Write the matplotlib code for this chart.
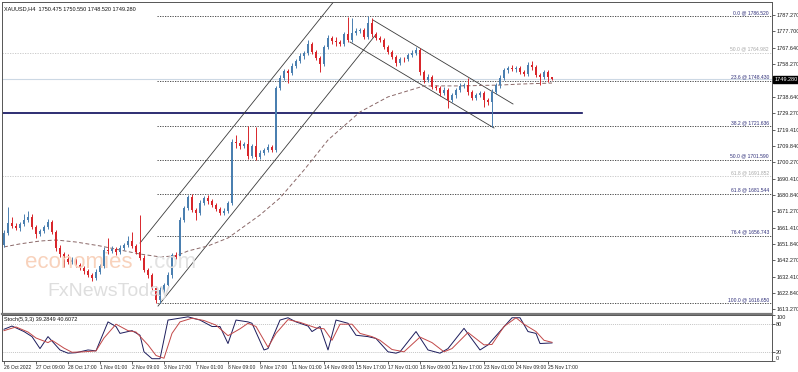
import numpy as np
import matplotlib.pyplot as plt
import matplotlib.transforms as mtransforms

# XAUUSD H4 candles, 26 Oct - 25 Nov 2022
first_open = 1651.2
closes = [1658.3, 1664.2, 1662.4, 1661.2, 1663.6, 1666.0, 1667.7, 1661.8, 1657.7, 1659.4,
          1661.8, 1664.8, 1658.9, 1649.4, 1645.8, 1642.9, 1641.1, 1642.3, 1639.3, 1637.5,
          1635.8, 1633.4, 1631.6, 1635.2, 1638.7, 1648.2, 1647.6, 1648.8, 1647.0, 1649.4,
          1651.2, 1653.5, 1650.6, 1647.0, 1643.5, 1636.4, 1633.4, 1625.7, 1618.6, 1624.5,
          1627.5, 1633.4, 1645.2, 1644.1, 1666.0, 1673.1, 1679.6, 1671.9, 1670.1, 1676.0,
          1679.0, 1677.2, 1674.8, 1672.5, 1670.1, 1671.3, 1676.0, 1712.1, 1711.5, 1709.7,
          1710.9, 1703.8, 1709.7, 1703.2, 1705.6, 1707.4, 1709.2, 1707.4, 1744.1, 1750.0,
          1754.1, 1753.0, 1757.1, 1760.1, 1763.0, 1764.8, 1770.1, 1765.4, 1761.8, 1758.3,
          1768.3, 1773.7, 1771.9, 1771.3, 1770.1, 1776.0, 1772.5, 1776.6, 1777.8, 1778.4,
          1774.3, 1782.5, 1776.0, 1773.7, 1772.5, 1768.3, 1765.4, 1762.4, 1758.9, 1761.2,
          1761.0, 1763.6, 1764.8, 1766.6, 1753.5, 1748.8, 1750.6, 1744.7, 1744.1, 1741.1,
          1742.9, 1737.0, 1739.9, 1742.9, 1745.3, 1745.8, 1741.7, 1738.2, 1739.9, 1741.1,
          1737.0, 1735.8, 1741.7, 1745.8, 1750.0, 1754.7, 1755.9, 1755.3, 1755.9, 1753.5,
          1752.4, 1757.7, 1756.5, 1751.8, 1750.6, 1753.5, 1750.475, 1749.28]
wick_up = [1.5, 9.5, 3.8, 1.5, 1.0, 3.5, 3.5, 2.0, 1.0, 1.2,
           1.2, 1.8, 1.0, 1.2, 1.5, 1.2, 3.0, 1.5, 1.0, 1.2,
           1.0, 1.2, 1.0, 1.5, 1.2, 1.5, 7.0, 1.5, 1.2, 1.5,
           1.2, 3.0, 5.3, 1.2, 21.9, 1.5, 1.2, 1.0, 1.2, 1.5,
           1.2, 1.5, 1.2, 2.0, 1.5, 1.2, 1.2, 1.5, 1.2, 1.5,
           1.2, 1.5, 1.2, 1.0, 1.2, 1.5, 1.2, 1.5, 4.0, 1.5,
           1.5, 10.6, 1.5, 11.2, 1.5, 1.2, 1.5, 1.2, 1.0, 1.5,
           1.2, 1.0, 1.5, 1.2, 1.5, 1.2, 2.4, 1.2, 1.0, 1.2,
           1.5, 1.8, 1.2, 2.4, 1.2, 1.5, 10.0, 9.0, 1.5, 1.2,
           1.2, 4.0, 3.0, 1.2, 1.0, 1.2, 1.0, 1.2, 1.0, 1.5,
           1.5, 1.2, 1.5, 2.0, 1.2, 1.0, 1.5, 1.2, 1.0, 1.2,
           1.5, 1.2, 1.5, 1.2, 1.5, 1.2, 4.1, 1.2, 1.5, 1.2,
           1.2, 1.0, 1.5, 1.2, 1.5, 1.5, 1.2, 1.5, 1.2, 1.2,
           1.0, 1.5, 2.4, 1.2, 1.0, 1.5, 1.2, 0.075]
wick_dn = [1.0, 1.5, 1.2, 1.0, 1.5, 1.2, 1.0, 1.2, 2.5, 1.2,
           1.0, 1.2, 1.5, 2.0, 1.5, 5.0, 1.2, 1.5, 1.2, 1.0,
           2.0, 1.2, 1.8, 1.2, 1.5, 1.2, 1.5, 1.2, 1.5, 1.2,
           1.0, 1.2, 1.5, 1.2, 1.5, 1.2, 1.5, 1.2, 2.0, 1.8,
           1.5, 1.2, 1.5, 1.2, 1.5, 1.2, 1.0, 1.5, 4.0, 1.2,
           1.0, 1.5, 1.2, 1.5, 1.2, 1.0, 1.5, 1.2, 3.0, 1.5,
           1.2, 1.5, 1.2, 1.5, 1.2, 1.0, 1.2, 1.5, 1.2, 1.5,
           1.2, 6.0, 1.2, 1.0, 1.2, 1.5, 1.2, 1.5, 1.2, 5.0,
           1.2, 1.0, 1.5, 2.4, 1.2, 1.0, 1.5, 1.2, 1.0, 1.2,
           1.5, 1.2, 1.5, 1.2, 1.5, 1.2, 1.5, 1.2, 2.0, 1.2,
           1.5, 1.2, 1.0, 1.2, 1.5, 1.5, 1.2, 1.5, 1.2, 1.5,
           1.2, 4.7, 1.2, 1.5, 1.2, 1.0, 1.5, 1.2, 1.5, 1.2,
           4.0, 1.5, 14.8, 1.2, 1.5, 1.2, 1.5, 1.2, 1.5, 1.2,
           1.5, 1.2, 1.5, 1.2, 5.0, 1.2, 3.0, 0.76]

# moving average (dashed), vertices
ma_idx = [0, 4, 9, 13, 18, 24, 29, 34, 39, 43, 46, 51, 56, 64, 69, 75, 81, 89, 96, 105, 114, 124, 129, 137]
ma_val = [1650.0, 1651.8, 1653.5, 1654.1, 1652.9, 1650.6, 1648.2, 1645.8, 1644.1, 1644.7, 1647.6,
          1650.6, 1655.3, 1668.9, 1679.0, 1695.5, 1713.3, 1729.9, 1738.8, 1745.3, 1745.3, 1745.8,
          1746.4, 1747.0]

# stochastic (5,3,3)
k_idx = [0, 2, 5, 7, 9, 11, 14, 16, 18, 21, 23, 26, 28, 29, 31, 32, 34, 35, 37, 39, 41, 46, 49, 52,
         54, 56, 58, 61, 62, 65, 66, 69, 71, 73, 76, 77, 79, 81, 83, 86, 88, 91, 93, 96, 98, 99, 103,
         106, 109, 111, 115, 119, 121, 127, 129, 131, 133, 134, 137]
k_val = [69, 76, 64, 53, 27, 53, 24, 17, 18, 24, 22, 85, 75, 60, 64, 66, 56, 20, 5, 5, 89, 96, 89, 75,
         75, 38, 89, 85, 82, 24, 27, 89, 94, 85, 76, 64, 75, 24, 89, 82, 56, 53, 49, 20, 17, 20, 64,
         24, 17, 27, 71, 24, 35, 94, 94, 64, 60, 38, 39.28]
d_idx = [0, 3, 6, 8, 11, 12, 15, 17, 20, 23, 25, 28, 31, 33, 36, 38, 40, 42, 44, 47, 50, 53, 56, 59,
         61, 63, 66, 68, 71, 74, 78, 80, 82, 84, 87, 89, 92, 94, 97, 100, 104, 107, 110, 112, 116, 120,
         122, 125, 128, 130, 133, 135, 137]
d_val = [66, 74, 63, 50, 40, 45, 28, 19, 20, 22, 50, 80, 66, 63, 35, 12, 6, 60, 85, 93, 88, 78, 55, 70,
         82, 75, 30, 60, 90, 84, 72, 70, 45, 80, 80, 60, 53, 45, 25, 20, 52, 40, 20, 27, 62, 35,
         36, 75, 94, 80, 64, 45, 40.61]

# fibonacci retracement
fib_pct = ['0.0', '23.6', '38.2', '50.0', '61.8', '76.4', '100.0']
fib_price = [1786.520, 1748.430, 1721.636, 1701.590, 1681.544, 1656.743, 1616.650]
fib2_pct = ['50.0', '61.8']
fib2_price = [1764.982, 1691.852]

support = 1729.3
bid = 1749.28

# trend channels (bar index, price)
asc_up = ([34, 84], [1652.3, 1799.8])
asc_lo = ([38.5, 93], [1615.0, 1775.8])
desc_up = ([92.25, 127.25], [1784.3, 1734.6])
desc_lo = ([86.5, 122.5], [1771.3, 1720.4])

price_ticks = [1787.27, 1777.70, 1767.64, 1758.27, 1738.64, 1729.27, 1719.41, 1709.84, 1700.27,
               1690.41, 1680.84, 1671.27, 1661.41, 1651.84, 1642.27, 1632.41, 1622.84, 1613.27]
date_labels = ['26 Oct 2022', '27 Oct 09:00', '28 Oct 17:00', '1 Nov 01:00', '2 Nov 09:00',
               '3 Nov 17:00', '7 Nov 01:00', '8 Nov 09:00', '9 Nov 17:00', '11 Nov 01:00',
               '14 Nov 09:00', '15 Nov 17:00', '17 Nov 01:00', '18 Nov 09:00', '21 Nov 17:00',
               '23 Nov 01:00', '24 Nov 09:00', '25 Nov 17:00']

plt.rcParams['font.family'] = ['Liberation Sans', 'DejaVu Sans']
W, H = 798, 372
fig = plt.figure(figsize=(W / 100, H / 100), dpi=100)
ax = fig.add_axes([2 / W, 1 - 314 / H, 770 / W, 312 / H])
ax2 = fig.add_axes([2 / W, 1 - 361 / H, 770 / W, 46 / H])

n = len(closes)
x = np.arange(n)
c = np.array(closes)
o = np.concatenate([[first_open], c[:-1]])
hi = np.maximum(o, c) + np.array(wick_up)
lo = np.minimum(o, c) - np.array(wick_dn)
up = c >= o
cols = np.where(up, '#4a7fb0', '#d8262b')

navy = '#30307a'
trans = mtransforms.blended_transform_factory(ax.transAxes, ax.transData)

# fib levels
for p, v in zip(fib2_pct, fib2_price):
    ax.axhline(v, ls=(0, (1.5, 1.5)), color='#c4c4c4', lw=0.6, zorder=1)
    ax.text(0.996, v + 0.6, f'{p} @ {v:.3f}', transform=trans, ha='right', va='bottom',
            fontsize=3.6, color='#a8a8a8')
ax.axhline(bid, color='#ccd8e4', lw=0.8, zorder=1)
for p, v in zip(fib_pct, fib_price):
    ax.plot([38.3, 192], [v, v], ls=(0, (1.5, 1.5)), color='#333333', lw=0.6, zorder=1)
    ax.text(0.996, v + 0.6, f'{p} @ {v:.3f}', transform=trans, ha='right', va='bottom',
            fontsize=3.6, color=navy)

ax.plot([-0.5, 144.5], [support, support], color='#0a0a5a', lw=1.2, zorder=2)

for seg in (asc_up, asc_lo, desc_up, desc_lo):
    ax.plot(seg[0], seg[1], color='#3a3a3a', lw=0.6, zorder=2)

ax.plot(ma_idx, ma_val, color='#8a6868', lw=0.7, dashes=(4, 2.5), zorder=2)

# candles
ax.vlines(x, lo, hi, colors=cols, lw=0.7, zorder=3)
body = np.maximum(np.abs(c - o), 0.4)
ax.bar(x, body, bottom=np.minimum(o, c), width=0.72, color=cols, zorder=4, linewidth=0)

# watermark
fig.text(25 / W, 1 - 262 / H, 'economies', fontsize=16, color='#f8d2bc', va='center')
fig.text(148 / W, 1 - 262 / H, '.com', fontsize=16, color='#e2e2e2', va='center')
fig.text(47 / W, 1 - 292 / H, 'FxNewsToday', fontsize=14, color='#dedede', va='center')

ax.set_xlim(-0.5, 192)
ax.set_ylim(1610.3, 1794.97)
ax.yaxis.tick_right()
ax.set_yticks(price_ticks)
ax.set_yticklabels([f'{t:.3f}' for t in price_ticks])
ax.tick_params(axis='y', labelsize=4, length=2, width=0.5, pad=1, colors='#222222')
ax.set_xticks([])
for s in ax.spines.values():
    s.set_color('#555555')
    s.set_linewidth(0.7)
ax.spines['bottom'].set_linewidth(1.6)
ax.spines['bottom'].set_color('#7a7a7a')

ax.text(1.003, bid, f'{bid:.3f}', transform=trans, ha='left', va='center', fontsize=4,
        color='white', bbox=dict(boxstyle='square,pad=0.15', fc='black', ec='black'))
ax.text(0.003, 0.985, 'XAUUSD,H4  1750.475 1750.550 1748.520 1749.280', transform=ax.transAxes,
        ha='left', va='top', fontsize=4, color='#111111')

# stochastic panel
ax2.axhline(80, color='#b0b0b0', lw=0.5, ls=(0, (1.5, 1.5)))
ax2.axhline(20, color='#b0b0b0', lw=0.5, ls=(0, (1.5, 1.5)))
ax2.plot(k_idx, k_val, color='#1c1c5c', lw=0.7)
ax2.plot(d_idx, d_val, color='#c24848', lw=0.7)
ax2.set_xlim(-0.5, 192)
ax2.set_ylim(0, 100)
ax2.yaxis.tick_right()
ax2.set_yticks([0, 20, 80, 100])
ax2.set_yticklabels(['0', '20', '80', '100'])
ax2.tick_params(axis='y', labelsize=4, length=2, width=0.5, pad=1, colors='#222222')
lbls = ax2.get_yticklabels()
lbls[0].set_va('bottom')
lbls[3].set_va('top')
ax2.set_xticks(np.arange(0, n, 8))
ax2.set_xticklabels(date_labels, ha='left')
ax2.tick_params(axis='x', labelsize=3.6, length=2, width=0.5, pad=1, colors='#222222')
for s in ax2.spines.values():
    s.set_color('#555555')
    s.set_linewidth(0.7)
ax2.text(0.003, 0.96, 'Stoch(5,3,3) 39.2849 40.6072', transform=ax2.transAxes, ha='left', va='top',
         fontsize=4, color='#111111')

fig.savefig('out.png', dpi=100)
